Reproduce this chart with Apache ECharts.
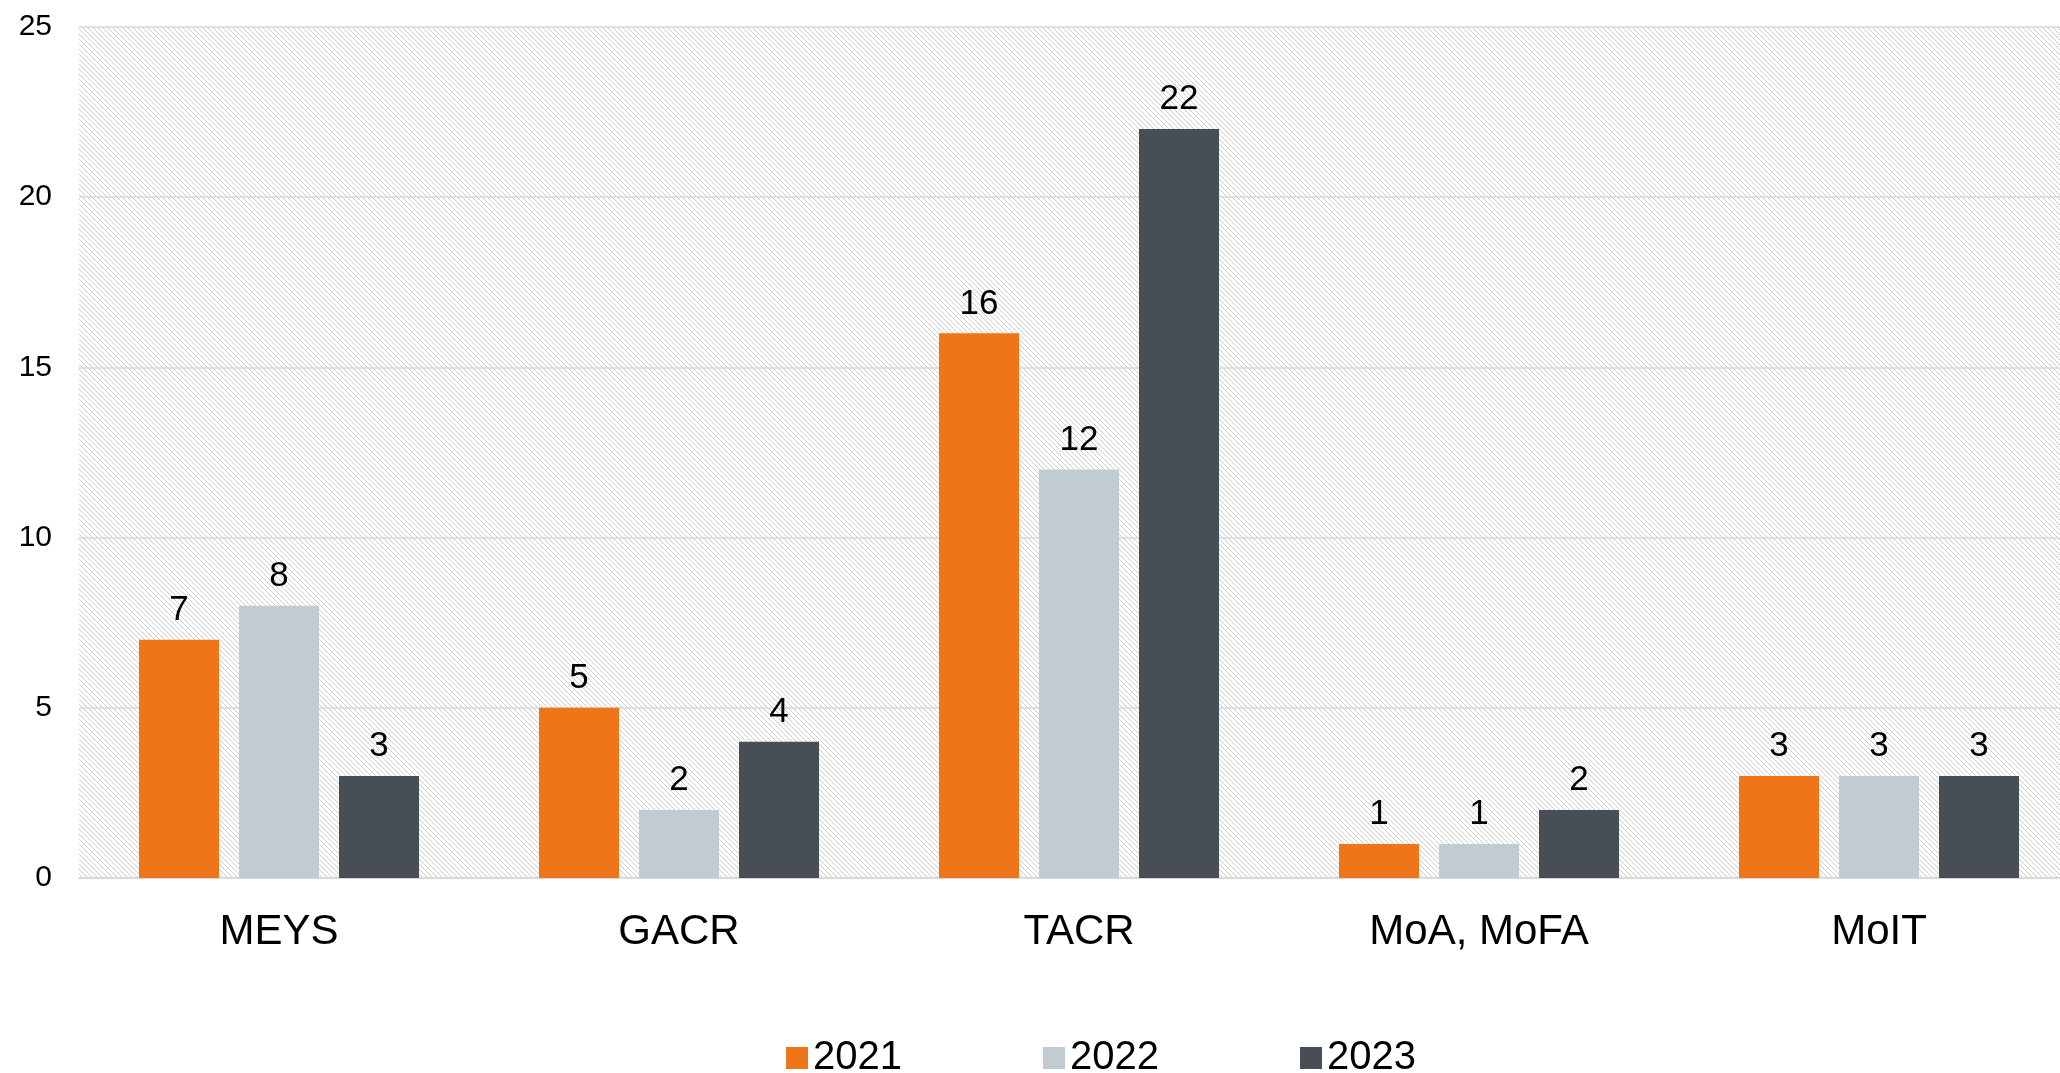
<!DOCTYPE html>
<html>
<head>
<meta charset="utf-8">
<script src="https://cdn.jsdelivr.net/npm/echarts@6/dist/echarts.min.js"></script>
<style>
  html, body { margin: 0; padding: 0; background: #fff; overflow: hidden; }
  #main { width: 2060px; height: 1073px; }
</style>
</head>
<body>
<div id="main"></div>
<script>
var categories = ['MEYS', 'GACR', 'TACR', 'MoA, MoFA', 'MoIT'];
var years = ['2021', '2022', '2023'];
var values2021 = [7, 5, 16, 1, 3];
var values2022 = [8, 2, 12, 1, 3];
var values2023 = [3, 4, 22, 2, 3];
var colors = ['#EE7518', '#C0CCD2', '#474E55'];

// diagonal hatch for the plot background
var tile = document.createElement('canvas');
tile.width = 5; tile.height = 5;
var ctx = tile.getContext('2d');
ctx.fillStyle = '#ffffff';
ctx.fillRect(0, 0, 5, 5);
ctx.fillStyle = '#cccccc';
for (var i = 0; i < 5; i++) {
    ctx.fillRect(i, i, 1, 1);
}

var font = 'Liberation Sans, Arial, sans-serif';

function makeSeries(name, data, color) {
    return {
        name: name,
        type: 'bar',
        data: data,
        barWidth: 80,
        barGap: '25%',
        itemStyle: { color: color },
        label: {
            show: true,
            position: 'top',
            distance: 12,
            color: '#000',
            fontSize: 35,
            fontFamily: font
        }
    };
}

var myChart = echarts.init(document.getElementById('main'));
var option = {
    animation: false,
    backgroundColor: '#fff',
    grid: {
        left: 79,
        width: 2000,
        top: 27,
        bottom: 195,
        outerBoundsMode: 'none',
        containLabel: false,
        show: true,
        borderWidth: 0,
        backgroundColor: { image: tile, repeat: 'repeat' }
    },
    legend: {
        top: 1033,
        left: 781,
        itemWidth: 22,
        itemHeight: 22,
        itemGap: 141,
        icon: 'rect',
        textStyle: { fontSize: 40, color: '#000', fontFamily: font, padding: [0, 0, 0, 0] },
        data: years
    },
    xAxis: {
        type: 'category',
        data: categories,
        axisLine: { lineStyle: { color: '#d9d9d9', width: 2 } },
        axisTick: { show: false },
        axisLabel: { fontSize: 42, color: '#000', fontFamily: font, margin: 33 }
    },
    yAxis: {
        type: 'value',
        min: 0,
        max: 25,
        interval: 5,
        axisLine: { show: false },
        axisTick: { show: false },
        splitLine: { lineStyle: { color: '#d9d9d9', width: 1.5 } },
        axisLabel: { fontSize: 30, color: '#000', fontFamily: font, margin: 27 }
    },
    series: [
        makeSeries(years[0], values2021, colors[0]),
        makeSeries(years[1], values2022, colors[1]),
        makeSeries(years[2], values2023, colors[2])
    ]
};
myChart.setOption(option);
</script>
</body>
</html>
